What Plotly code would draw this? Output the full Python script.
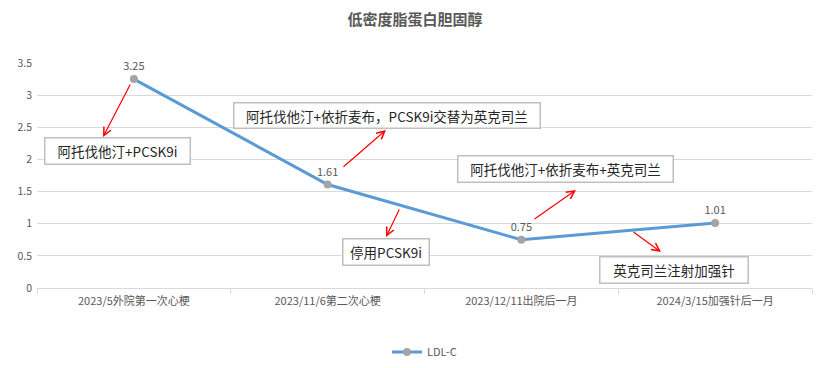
import plotly.graph_objects as go

# ---- data ----
categories = ["2023/5外院第一次心梗", "2023/11/6第二次心梗", "2023/12/11出院后一月", "2024/3/15加强针后一月"]
ldl_values = [3.25, 1.61, 0.75, 1.01]
value_labels = ["3.25", "1.61", "0.75", "1.01"]
series_name = "LDL-C"
title_text = "低密度脂蛋白胆固醇"
y_tickvals = [0, 0.5, 1, 1.5, 2, 2.5, 3, 3.5]
y_ticktext = ["0", "0.5", "1", "1.5", "2", "2.5", "3", "3.5"]

note_texts = [
    "阿托伐他汀+PCSK9i",
    "阿托伐他汀+依折麦布，PCSK9i交替为英克司兰",
    "停用PCSK9i",
    "阿托伐他汀+依折麦布+英克司兰",
    "英克司兰注射加强针",
]

# ---- layout geometry (pixels in the 830x368 canvas) ----
W, H = 830, 368
L, R, T, B = 37, 812, 63, 288
PW, PH = R - L, B - T

def px(x):
    return (x - L) / PW

def py(y):
    return (B - y) / PH

# boxes: (x0, y0, x1, y1) in pixels
boxes = [
    (44, 137, 191, 165),
    (233, 102, 541, 129),
    (342, 238, 430, 266),
    (457, 155, 674, 183),
    (599, 256, 749, 284),
]
# arrows: (tail_x, tail_y, head_x, head_y) in pixels
arrows = [
    (131, 83, 103, 137),
    (342, 168, 386, 130),
    (400, 208, 386, 237),
    (533, 220, 576, 190),
    (632, 231, 661, 252),
]

CJK = "Noto Sans CJK SC"
GRAY = "#595959"
GRID = "#d9d9d9"

fig = go.Figure()
fig.add_trace(go.Scatter(
    x=categories, y=ldl_values, name=series_name,
    mode="lines+markers+text",
    text=value_labels, textposition="top center",
    textfont=dict(family=CJK, size=11, color=GRAY),
    line=dict(color="#5b9bd5", width=3),
    marker=dict(color="#a5a5a5", size=8),
    cliponaxis=False,
))

annotations = []
for (x0, y0, x1, y1), t in zip(boxes, note_texts):
    annotations.append(dict(
        xref="paper", yref="paper",
        x=px((x0 + x1) / 2), y=py((y0 + y1) / 2),
        xanchor="center", yanchor="middle",
        text=t, showarrow=False,
        font=dict(family=CJK, size=13.5, color="#262626"),
        bgcolor="white", bordercolor="#bfbfbf", borderwidth=1.5, borderpad=0,
        width=x1 - x0 - 3, height=y1 - y0 - 3, align="center",
    ))
for (tx, ty, hx, hy) in arrows:
    annotations.append(dict(
        xref="paper", yref="paper",
        x=px(hx), y=py(hy), ax=tx - hx, ay=ty - hy,
        text="", showarrow=True,
        arrowhead=5, arrowsize=1.3, arrowwidth=1.2, arrowcolor="#ff0000",
        standoff=0, startstandoff=0,
    ))

fig.update_layout(
    width=W, height=H,
    margin=dict(l=L, r=W - R, t=T, b=H - B, autoexpand=False),
    paper_bgcolor="white", plot_bgcolor="white",
    title=dict(text="<b>" + title_text + "</b>", x=0.5, xanchor="center",
               y=1 - 20 / H, yanchor="middle",
               font=dict(family=CJK, size=15, color=GRAY)),
    font=dict(family=CJK, color=GRAY),
    showlegend=True,
    legend=dict(orientation="h", x=0.5, xanchor="center", y=py(352), yanchor="middle",
                itemwidth=30,
                font=dict(family=CJK, size=11, color=GRAY)),
    annotations=annotations,
    xaxis=dict(
        type="category", range=[-0.5, 3.5], automargin=False,
        showgrid=False, showline=True, linecolor=GRID, linewidth=1,
        ticks="outside", tickson="boundaries", ticklen=5, tickcolor=GRID,
        tickfont=dict(family=CJK, size=11, color=GRAY),
        ticklabelstandoff=3,
        fixedrange=True,
    ),
    yaxis=dict(
        range=[0, 3.5], tickvals=y_tickvals, ticktext=y_ticktext, automargin=False,
        showgrid=True, gridcolor=GRID, gridwidth=1,
        showline=False, zeroline=True, zerolinecolor=GRID,
        tickfont=dict(family=CJK, size=10.5, color=GRAY),
        ticklabelstandoff=4,
        fixedrange=True,
    ),
)

fig.write_html("out.html", config={"displayModeBar": False},
               post_script="document.body.style.margin='0';document.body.style.padding='0';")
